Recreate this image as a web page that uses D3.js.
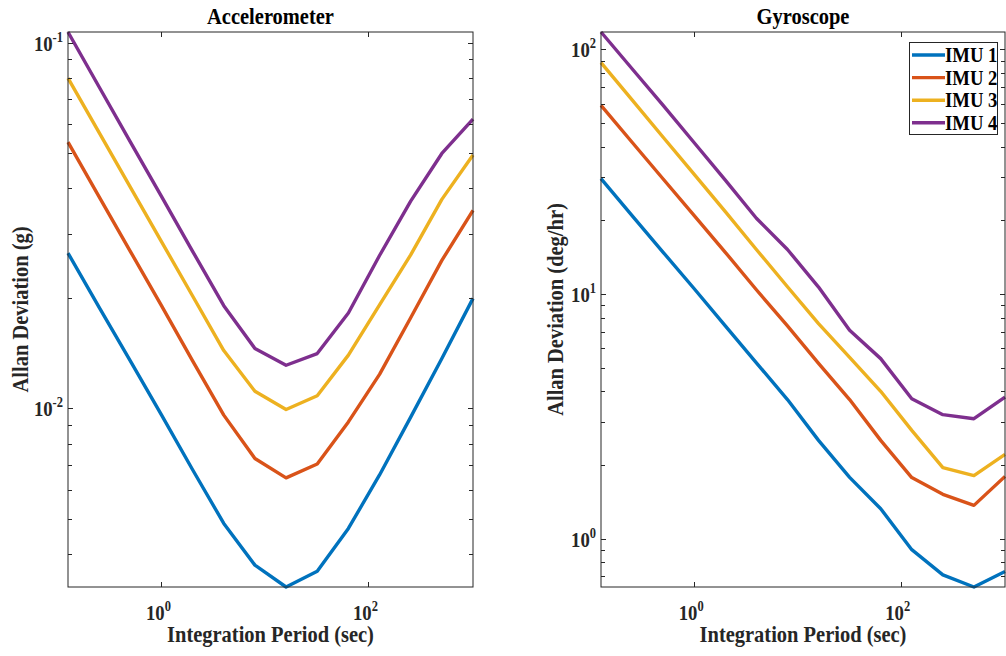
<!DOCTYPE html>
<html>
<head>
<meta charset="utf-8">
<script src="https://cdn.jsdelivr.net/npm/d3@7"></script>
<style>
  body { margin: 0; background: #fff; }
  text { font-family: "Liberation Serif", "Times New Roman", serif; font-weight: bold; fill: #262626; }
</style>
</head>
<body>
<div id="chart"></div>
<script>
const tau = [0.125, 0.25, 0.5, 1, 2, 4, 8, 16, 32, 64, 128, 256, 512, 1024];

const accelImu1 = [0.0266, 0.0189, 0.0135, 0.0096, 0.0068, 0.00485, 0.00373, 0.00325, 0.00359, 0.0047, 0.00658, 0.00947, 0.0137, 0.0200];
const accelImu2 = [0.0535, 0.0379, 0.0269, 0.0191, 0.0135, 0.00959, 0.0073, 0.00646, 0.00705, 0.00919, 0.0124, 0.0177, 0.0254, 0.0348];
const accelImu3 = [0.080, 0.0568, 0.0403, 0.0286, 0.0203, 0.0144, 0.01114, 0.00994, 0.01083, 0.01399, 0.0192, 0.0263, 0.0373, 0.0493];
const accelImu4 = [0.107, 0.0757, 0.0536, 0.038, 0.0269, 0.0191, 0.01459, 0.01313, 0.01413, 0.01824, 0.0262, 0.0369, 0.0498, 0.0618];

const gyroImu1 = [29.6, 20.9, 14.8, 10.5, 7.4, 5.23, 3.7, 2.52, 1.78, 1.325, 0.901, 0.711, 0.634, 0.734];
const gyroImu2 = [59, 41.7, 29.5, 20.9, 14.8, 10.4, 7.4, 5.2, 3.7, 2.52, 1.775, 1.517, 1.367, 1.796];
const gyroImu3 = [88.2, 62.1, 43.7, 30.8, 21.7, 15.2, 10.7, 7.56, 5.5, 4.0, 2.77, 1.95, 1.81, 2.21];
const gyroImu4 = [117.7, 83.3, 59.0, 41.5, 29.2, 20.4, 15.2, 10.67, 7.1, 5.44, 3.73, 3.21, 3.09, 3.79];

const seriesNames = ["IMU 1", "IMU 2", "IMU 3", "IMU 4"];
const colors = ["#0072BD", "#D95319", "#EDB120", "#7E2F8E"];

const xTickExps = [0, 2];
const accelTickExps = [-2, -1];
const gyroTickExps = [0, 1, 2];

const width = 1006;
const height = 656;
const axisColor = "#262626";
const squeeze = 0.89; // the reference type is narrow, like condensed Times

const svg = d3.select("#chart")
    .append("svg")
    .attr("width", width)
    .attr("height", height);

// text placed at (x, y) and squeezed horizontally
function label(parent, x, y, size, anchor, rotate) {
    return parent.append("text")
        .attr("transform", `translate(${x}, ${y})${rotate ? " rotate(-90)" : ""} scale(${squeeze}, 1)`)
        .attr("text-anchor", anchor)
        .style("font-size", size + "px");
}

function drawPanel(opts) {
    const { left, right, top, bottom, series, title, yLabel, yTickExps, legend } = opts;

    const x = d3.scaleLog()
        .domain([tau[0], tau[tau.length - 1]])
        .range([left, right]);

    const y = d3.scaleLog()
        .domain(d3.extent(series.flat()))
        .range([bottom, top]);

    const g = svg.append("g");

    const line = d3.line()
        .x((d, i) => x(tau[i]))
        .y(d => y(d));

    series.forEach((s, i) => {
        g.append("path")
            .datum(s)
            .attr("fill", "none")
            .attr("stroke", colors[i])
            .attr("stroke-width", 3.4)
            .attr("stroke-linejoin", "round")
            .attr("d", line);
    });

    g.append("rect")
        .attr("x", left)
        .attr("y", top)
        .attr("width", right - left)
        .attr("height", bottom - top)
        .attr("fill", "none")
        .attr("stroke", axisColor)
        .attr("stroke-width", 1);

    // x ticks, top and bottom, pointing in
    xTickExps.forEach(e => {
        const px = Math.round(x(Math.pow(10, e))) + 0.5;
        g.append("line").attr("x1", px).attr("x2", px).attr("y1", bottom).attr("y2", bottom - 5)
            .attr("stroke", axisColor);
        g.append("line").attr("x1", px).attr("x2", px).attr("y1", top).attr("y2", top + 5)
            .attr("stroke", axisColor);

        const t = label(g, x(Math.pow(10, e)) - 3, bottom + 33, 21, "middle");
        t.append("tspan").text("10");
        t.append("tspan").attr("dy", -9).style("font-size", "14px").text(e);
    });

    // y ticks, major and minor, both sides
    const [ymin, ymax] = y.domain();
    const yTicks = [];
    for (let e = Math.floor(Math.log10(ymin)); e <= Math.ceil(Math.log10(ymax)); e++) {
        for (let m = 1; m <= 9; m++) {
            const v = m * Math.pow(10, e);
            if (v >= ymin && v <= ymax) yTicks.push({ v, major: m === 1 });
        }
    }
    yTicks.forEach(t => {
        const py = Math.round(y(t.v)) + 0.5;
        const len = t.major ? 5 : 4;
        g.append("line").attr("x1", left).attr("x2", left + len).attr("y1", py).attr("y2", py)
            .attr("stroke", axisColor);
        g.append("line").attr("x1", right).attr("x2", right - len).attr("y1", py).attr("y2", py)
            .attr("stroke", axisColor);
    });

    yTickExps.forEach(e => {
        const t = label(g, left - 5, y(Math.pow(10, e)) + 8, 21, "end");
        t.append("tspan").text("10");
        t.append("tspan").attr("dy", -9).style("font-size", "14px").text(e < 0 ? "-" + Math.abs(e) : e);
    });

    label(g, (left + right) / 2, 24, 23, "middle")
        .style("fill", "#000")
        .text(title);

    label(g, (left + right) / 2, 642, 23, "middle")
        .text("Integration Period (sec)");

    label(g, opts.yLabelX, (top + bottom) / 2, 23, "middle", true)
        .text(yLabel);

    if (legend) {
        const lx = 909, ly = 42, lw = 88, lh = 92;
        const lg = g.append("g");
        lg.append("rect")
            .attr("x", lx + 0.5).attr("y", ly + 0.5)
            .attr("width", lw).attr("height", lh)
            .attr("fill", "#fff")
            .attr("stroke", axisColor);
        seriesNames.forEach((name, i) => {
            const ry = ly + 13 + i * 22.6;
            lg.append("line")
                .attr("x1", lx + 3).attr("x2", lx + 36)
                .attr("y1", ry).attr("y2", ry)
                .attr("stroke", colors[i])
                .attr("stroke-width", 3.4);
            label(lg, lx + 36, ry + 7, 21, "start")
                .style("fill", "#000")
                .text(name);
        });
    }
}

drawPanel({
    left: 68, right: 473, top: 32, bottom: 587,
    series: [accelImu1, accelImu2, accelImu3, accelImu4],
    title: "Accelerometer",
    yLabel: "Allan Deviation (g)",
    yLabelX: 28,
    yTickExps: accelTickExps,
    legend: false
});

drawPanel({
    left: 601, right: 1005, top: 32, bottom: 587,
    series: [gyroImu1, gyroImu2, gyroImu3, gyroImu4],
    title: "Gyroscope",
    yLabel: "Allan Deviation (deg/hr)",
    yLabelX: 563,
    yTickExps: gyroTickExps,
    legend: true
});
</script>
</body>
</html>
